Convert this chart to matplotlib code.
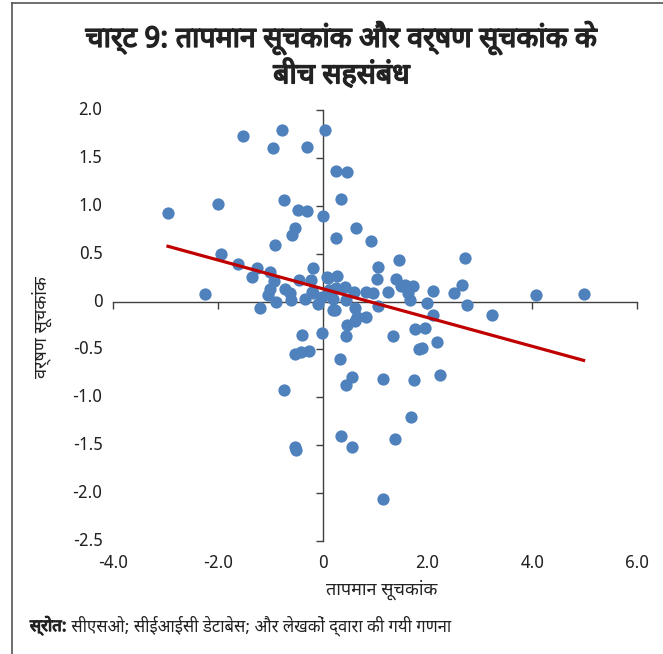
import matplotlib
matplotlib.use("Agg")
import matplotlib.pyplot as plt
from matplotlib import transforms
import matplotlib.patheffects as pe
import numpy as np

# temperature index (x) and rainfall index (y) per state-year
temp_idx = [
    -1.51, -0.77, -0.94, -0.29, 0.04, 0.25, 0.46, 0.36,
    -2.95, -1.99, -0.74, -0.46, -0.29, 0.01, -0.53, -0.58, 0.64, 0.25, 0.92, -0.90,
    -1.93, -1.62, 2.72, 1.46, -2.24,
    -1.26, -1.35, -1.01, -0.92, -1.01, -1.04, -0.88, -0.71, -0.60, -0.45, -0.34,
    -0.19, -0.22, 0.08, -1.19, -0.09, -0.18, -0.63, -0.20, 0.13, 0.20, 0.20,
    0.10, 0.27, 0.26, 0.43, 0.59, 0.83, 0.97, 1.25, 1.49, 1.58, 1.72, 1.63, 1.67,
    2.11, 2.51, 2.66, 4.08, 4.98, 1.06, 1.03, 1.41,
    2.00, 2.76, 3.24, 2.11, 1.05, -0.01, 0.23, 0.62, 0.66, 0.82, 0.46, 0.45, 0.61,
    1.77, 1.95,
    -0.01, 0.44, 1.35, 2.19, 1.84, 1.90, 0.33, 0.57, 0.45, 1.16, 1.75, 2.24,
    1.69, 0.35, 1.38, 0.57, 1.15,
    -0.40, -0.52, -0.42, -0.26, -0.73, -0.52, -0.51,
]
rain_idx = [
    1.73, 1.79, 1.60, 1.61, 1.79, 1.36, 1.35, 1.07,
    0.92, 1.02, 1.06, 0.96, 0.95, 0.89, 0.77, 0.70, 0.77, 0.66, 0.63, 0.59,
    0.50, 0.39, 0.45, 0.43, 0.08,
    0.35, 0.26, 0.31, 0.21, 0.13, 0.07, 0.00, 0.13, 0.02, 0.23, 0.03,
    0.35, 0.23, 0.26, -0.07, -0.03, 0.09, 0.09, 0.10, 0.12, 0.03, -0.09,
    0.25, 0.27, 0.14, 0.15, 0.10, 0.10, 0.09, 0.10, 0.16, 0.17, 0.16, 0.09, 0.02,
    0.11, 0.09, 0.17, 0.07, 0.08, 0.36, 0.24, 0.24,
    -0.02, -0.04, -0.14, -0.14, -0.05, 0.05, -0.09, -0.07, -0.16, -0.16, -0.24, 0.02, -0.20,
    -0.29, -0.28,
    -0.33, -0.36, -0.36, -0.42, -0.50, -0.49, -0.60, -0.79, -0.87, -0.81, -0.82, -0.77,
    -1.21, -1.40, -1.44, -1.52, -2.06,
    -0.35, -0.55, -0.53, -0.52, -0.92, -1.52, -1.55,
]

x_ticks = [-4, -2, 0, 2, 4, 6]
x_tick_labels = ["-4.0", "-2.0", "0", "2.0", "4.0", "6.0"]
y_ticks = [-2.5, -2.0, -1.5, -1.0, -0.5, 0, 0.5, 1.0, 1.5, 2.0]
y_tick_labels = ["-2.5", "-2.0", "-1.5", "-1.0", "-0.5", "0", "0.5", "1.0", "1.5", "2.0"]

title = "चार्ट 9: तापमान सूचकांक और वर्षण सूचकांक के\nबीच सहसंबंध"
x_label = "तापमान सूचकांक"
y_label = "वर्षण सूचकांक"
source_head = "स्रोत:"
source_body = " सीएसओ; सीईआईसी डेटाबेस; और लेखकों द्वारा की गयी गणना"

FONTS = ["Noto Sans Devanagari", "Lohit Devanagari", "FreeSans",
         "Liberation Sans Narrow", "DejaVu Sans"]
plt.rcParams["font.family"] = FONTS

DOT = "#4F81BD"
TREND = "#C00000"
AXIS = "#404040"
INK = "#222222"

# the Devanagari face has no bold weight here, so thicken strokes instead
heavy = [pe.withStroke(linewidth=1.1, foreground=INK)]

fig = plt.figure(figsize=(6.63, 6.54), dpi=100)
ax = fig.add_axes([0.1704, 0.1728, 0.7904, 0.6590])

x = np.array(temp_idx)
y = np.array(rain_idx)
ax.scatter(x, y, s=78, color=DOT, linewidths=0, zorder=3)

# linear trend over the observed x range
slope, icpt = np.polyfit(x, y, 1)
xf = np.array([x.min(), x.max()])
ax.plot(xf, slope * xf + icpt, color=TREND, lw=2.3, zorder=4)

ax.set_xlim(-4, 6)
ax.set_ylim(-2.5, 2.0)

# axes cross at the origin
for side in ("top", "right"):
    ax.spines[side].set_visible(False)
ax.spines["left"].set_position(("data", 0))
ax.spines["bottom"].set_position(("data", 0))
for side in ("left", "bottom"):
    ax.spines[side].set_color(AXIS)
    ax.spines[side].set_linewidth(1.0)

ax.set_xticks(x_ticks)
ax.set_yticks(y_ticks)
ax.set_xticklabels([])
ax.set_yticklabels([])
ax.tick_params(direction="out", length=5, width=1.0, color=AXIS)

# tick labels sit at the frame edges, not next to the crossing axes
tick_font = dict(fontsize=12.5, color=INK)
xb = transforms.blended_transform_factory(ax.transData, ax.transAxes)
for v, lab in zip(x_ticks, x_tick_labels):
    ax.text(v, -0.03, lab, transform=xb, ha="center", va="top", **tick_font)
yb = transforms.blended_transform_factory(ax.transAxes, ax.transData)
for v, lab in zip(y_ticks, y_tick_labels):
    ax.text(-0.02, v, lab, transform=yb, ha="right", va="center", **tick_font)

fig.text(0.515, 0.915, title, ha="center", va="center", fontsize=20.5,
         color=INK, linespacing=1.2, path_effects=heavy)
fig.text(0.575, 0.098, x_label, ha="center", va="center", fontsize=13,
         color=INK)
fig.text(0.063, 0.50, y_label, ha="center", va="center", rotation=90,
         fontsize=13, color=INK)

head = fig.text(0.045, 0.035, source_head, ha="left", va="baseline",
                fontsize=12, color=INK,
                path_effects=[pe.withStroke(linewidth=0.8, foreground=INK)])
ax.annotate(source_body, xy=(1, 0), xycoords=head, ha="left", va="bottom",
            fontsize=12, color=INK, annotation_clip=False)

# frame lines along the top and left edges
fig.add_artist(plt.Line2D([0.018, 1.0], [0.996, 0.996], color="#555555", lw=1.2))
fig.add_artist(plt.Line2D([0.018, 0.018], [0.0, 0.996], color="#555555", lw=1.2))

fig.savefig("out.png", dpi=100)
